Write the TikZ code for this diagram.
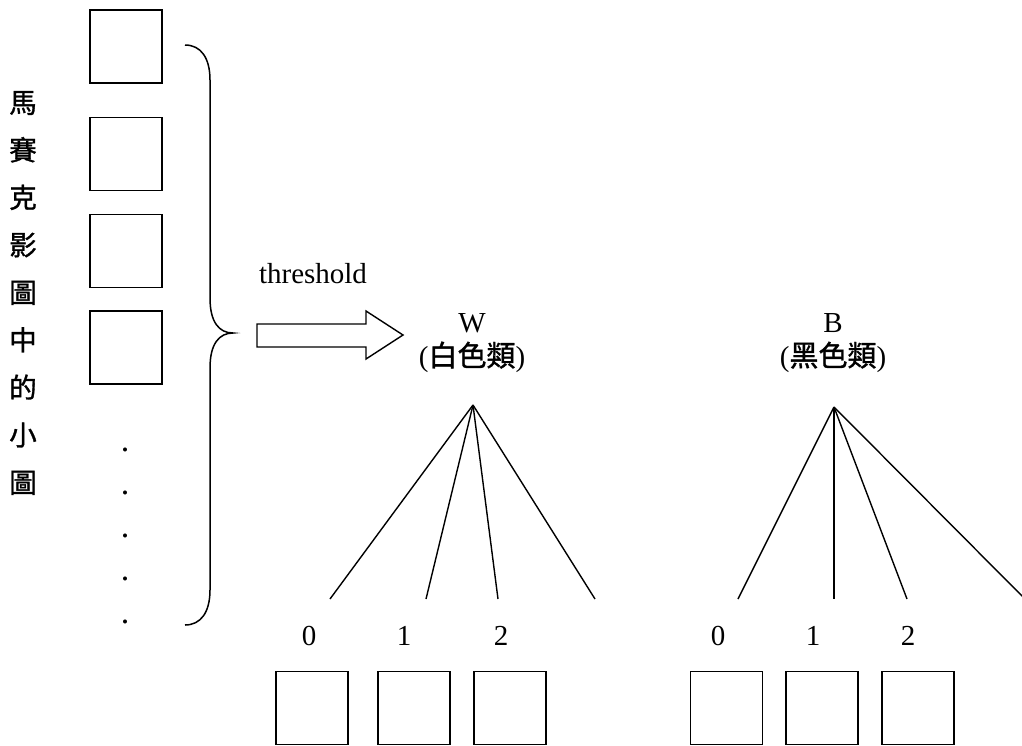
\documentclass[tikz,border=0pt]{standalone}
\usepackage{fontspec}
\setmainfont{Liberation Serif}
\newfontfamily\cjk[AutoFakeBold=1.2]{Noto Sans CJK TC}
\begin{document}
\begin{tikzpicture}[x=1pt,y=-1pt,
  line width=1.6pt,
  tile/.style={draw, minimum width=72pt, minimum height=73pt, inner sep=0pt},
  lbl/.style={font=\fontsize{29}{32}\selectfont, inner sep=0pt},
  edge/.style={line width=1.4pt}]
\useasboundingbox (0,0) rectangle (1022,745);

% vertical caption
\node[font=\cjk\bfseries\fontsize{27.5}{47.5}\selectfont, align=center, inner sep=0pt] (cap) at (23,293)
  {馬\\賽\\克\\影\\圖\\中\\的\\小\\圖};

% column of mosaic tiles
\node[tile] (t1) at (126,46.5) {};
\node[tile] (t2) at (126,154) {};
\node[tile] (t3) at (126,251) {};
\node[tile] (t4) at (126,347.5) {};
\foreach \y [count=\i] in {451,494,537,580,623}
  \node[font=\fontsize{34}{36}\selectfont, inner sep=0pt, anchor=base] (d\i) at (125,\y) {.};

% brace
\draw[line width=1.5pt] (185,45) .. controls (201,45) and (210,58) .. (210,80)
  -- (210,298) .. controls (210,322) and (219,333) .. (233,333)
  .. controls (219,333) and (210,344) .. (210,368)
  -- (210,590) .. controls (210,612) and (201,625) .. (185,625);

% threshold arrow
\node[lbl, anchor=base] (thr) at (313,283) {threshold};
\draw[line width=1.4pt] (257,324) -- (366,324) -- (366,311) -- (403,335)
  -- (366,359) -- (366,347) -- (257,347) -- cycle;

% class W
\node[lbl] (w) at (472,323) {W};
\node[lbl] (wl) at (472,357) {({\cjk\bfseries 白色類})};
\coordinate (wa) at (473,405);
\coordinate (we0) at (330,599);
\coordinate (we1) at (426,599);
\coordinate (we2) at (498,599);
\coordinate (we3) at (595,599);
\foreach \e in {we0,we1,we2,we3} \draw[edge] (wa) -- (\e);
\node[lbl] (w0) at (309,636) {0};
\node[lbl] (w1) at (404,636) {1};
\node[lbl] (w2) at (501,636) {2};
\node[tile] (ws0) at (312,708) {};
\node[tile] (ws1) at (414,708) {};
\node[tile] (ws2) at (510,708) {};

% class B
\node[lbl] (b) at (833,323) {B};
\node[lbl] (bl) at (833,357) {({\cjk\bfseries 黑色類})};
\coordinate (ba) at (834,407);
\coordinate (be0) at (738,599);
\coordinate (be1) at (834,599);
\coordinate (be2) at (907,599);
\coordinate (be3) at (1023,597);
\foreach \e in {be0,be1,be2,be3} \draw[edge] (ba) -- (\e);
\node[lbl] (b0) at (718,636) {0};
\node[lbl] (b1) at (813,636) {1};
\node[lbl] (b2) at (908,636) {2};
\node[tile] (bs0) at (726.5,708) {};
\node[tile] (bs1) at (822,708) {};
\node[tile] (bs2) at (918,708) {};
\end{tikzpicture}
\end{document}
